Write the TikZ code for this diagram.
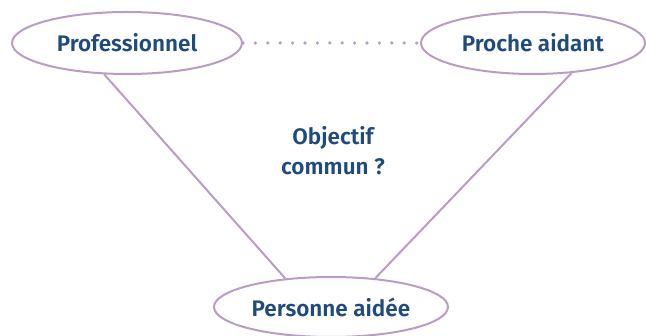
\documentclass[tikz,border=0pt]{standalone}
\usepackage{fontspec}
\setmainfont{Fira Sans}[UprightFont={* SemiBold}]
\usetikzlibrary{shapes.geometric}
\definecolor{linkpurple}{HTML}{B89CC6}
\definecolor{textblue}{HTML}{1F4A7E}
\begin{document}
\begin{tikzpicture}[
    x=1pt,
    y=-1pt,
    actor/.style={
        draw=linkpurple,
        line width=2pt,
        ellipse,
        inner sep=0pt,
        minimum width=230pt,
        minimum height=62pt,
        text=textblue,
        font=\fontsize{22.5}{24}\selectfont
    },
    link/.style={
        draw=linkpurple,
        line width=2pt
    },
    dotlink/.style={
        draw=linkpurple,
        line width=3.6pt,
        line cap=round,
        dash pattern=on 0pt off 12.4pt
    }
]
    \useasboundingbox (0,0) rectangle (646,336);

    % --- Actors ---
    \node[actor] (pro) at (127,43) {Professionnel};
    \node[actor, minimum width=224pt] (proche) at (533,43) {Proche aidant};
    \node[actor, minimum width=234pt, minimum height=60pt] (aidee) at (331,307) {Personne aidée};

    % --- Question ---
    \node[text=textblue, align=center, font=\fontsize{22.5}{30}\selectfont] (goal) at (333,151) {Objectif\\commun ?};

    % --- Links ---
    \draw[dotlink] (pro.east) -- (proche.west);
    \draw[link] (pro.234) -- (aidee.148);
    \draw[link] (proche.322) -- (aidee.33);
\end{tikzpicture}
\end{document}
